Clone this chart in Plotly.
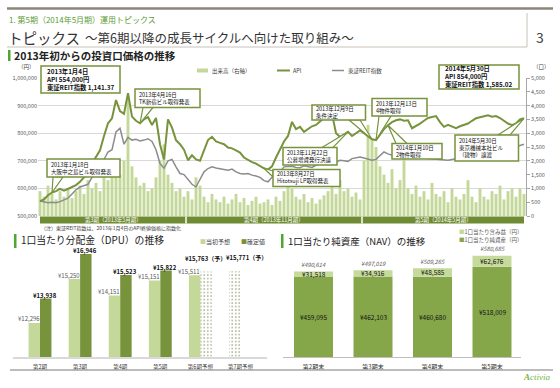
import plotly.graph_objects as go

W, H = 560, 388
JP = "Noto Sans CJK JP"

# ---------------- data ----------------
# Investment unit price (API, thousand yen), sampled ~every 3 trading days, 2013-01-04 .. 2014-05-30
api_k = [554, 560, 575, 585, 590, 598, 592, 600, 605, 612, 624, 640, 655, 690, 714, 738, 790, 836, 854, 920,
         880, 870, 945, 860, 845, 836, 850, 858, 830, 855, 760, 705, 850, 820, 775, 760, 740, 702, 720, 705,
         700, 740, 775, 787, 770, 765, 760, 748, 745, 738, 730, 712, 702, 695, 690, 680, 673, 668, 680, 712,
         740, 770, 790, 841, 815, 823, 805, 815, 825, 830, 841, 855, 883, 870, 800, 787, 795, 805, 790, 800,
         810, 800, 790, 778, 775, 795, 815, 829, 840, 847, 850, 845, 847, 818, 825, 835, 845, 855, 859, 862,
         840, 823, 830, 825, 818, 825, 830, 835, 845, 854, 858, 862, 865, 860, 862, 855, 845, 835, 829, 835,
         850, 854]
# TSE REIT index rebased to the API price on 2013-01-04 (thousand yen)
reit_k = [554, 550, 548, 550, 548, 552, 560, 565, 580, 595, 605, 610, 615, 640, 650, 660, 705, 732, 740, 805,
          818, 760, 785, 775, 778, 772, 775, 780, 770, 740, 690, 673, 700, 705, 678, 654, 650, 632, 615, 605,
          630, 660, 672, 678, 674, 672, 668, 666, 670, 660, 654, 652, 654, 648, 645, 640, 628, 624, 640, 650,
          660, 678, 680, 680, 676, 675, 682, 680, 676, 684, 690, 694, 692, 690, 695, 702, 700, 698, 708, 710,
          714, 710, 706, 702, 705, 720, 732, 725, 720, 716, 718, 720, 715, 712, 708, 710, 712, 708, 707, 707,
          705, 704, 702, 705, 708, 712, 715, 716, 714, 716, 720, 722, 725, 728, 730, 735, 738, 742, 746, 750,
          754, 760]
# Trading volume (units, right axis)
volume = [900, 700, 1100, 800, 600, 900, 700, 1000, 650, 900, 1100, 800, 1300, 1000, 1200, 900, 1500, 1300,
          1700, 1900, 1500, 2000, 4300, 1800, 1400, 1100, 1200, 900, 1000, 1400, 2000, 2600, 1500, 1200, 900,
          1000, 700,
          900, 600, 1400, 1100, 700, 500, 800, 600, 500, 700, 450, 600, 800, 500, 650, 400, 550, 700, 450, 500,
          600, 400, 700, 550, 900, 1200, 1000, 700, 600, 800, 500, 650, 450, 600, 750, 900, 1100, 800, 1300,
          900, 1000, 700, 850, 600,
          2000, 3300, 2800, 2500, 1800, 1500, 1200, 1700, 1000, 1300, 2400, 1000, 800, 1100, 700, 900, 600,
          1200, 800, 700, 900, 500, 1000, 700, 600, 800, 1300, 700, 500, 1000, 700, 600, 900, 800, 1100, 600,
          900, 1000, 700, 1000, 800]
period_labels = ["第3期（2013年5月期）", "第4期（2013年11月期）", "第5期（2014年5月期）"]

dpu_cats = ["第2期", "第3期", "第4期", "第5期", "第6期予想", "第7期予想"]
dpu_initial = [12296, 15250, 14151, 15151, 15511, 15771]
dpu_actual = [13938, 16946, 15523, 15822, 15763, None]
dpu_initial_text = ["¥12,296", "¥15,250", "¥14,151", "¥15,151", "¥15,511", None]
dpu_actual_text = ["¥13,938", "¥16,946", "¥15,523", "¥15,822", "¥15,763（予）", None]
dpu_forecast7_text = "¥15,771（予）"

nav_cats = ["第2期末", "第3期末", "第4期末", "第5期末"]
nav_values = [459095, 462103, 460680, 518009]
nav_gain = [31518, 34916, 48585, 62676]
nav_total = [490614, 497019, 509265, 580685]

api = [v * 1000 for v in api_k]
reit = [v * 1000 for v in reit_k]
N = len(api)
idx = list(range(N))

# ---------------- colours ----------------
OLIVE = "#77933c"
LIGHT = "#c4d89a"
GRAYBAR = "#a8b08e"
NAVDARK = "#86a64a"
HEAD_GREEN = "#4ea72e"

# ---------------- geometry helpers ----------------
def PX(x):
    return x / W

def PY(y):
    return 1 - y / H

MAIN_L, MAIN_R, MAIN_T, MAIN_B = 38, 526, 78, 216

def mx(i):
    return MAIN_L + (i + 0.5) * (MAIN_R - MAIN_L) / N

def my(v):
    return MAIN_B - (v - 5e5) / 5e5 * (MAIN_B - MAIN_T)

shapes = []
anns = []

def line(x0, y0, x1, y1, color, width):
    shapes.append(dict(type="line", xref="paper", yref="paper", x0=PX(x0), y0=PY(y0), x1=PX(x1), y1=PY(y1),
                       line=dict(color=color, width=width)))

def rect(x0, y0, x1, y1, fill, lc=None, lw=0):
    shapes.append(dict(type="rect", xref="paper", yref="paper", x0=PX(x0), y0=PY(y0), x1=PX(x1), y1=PY(y1),
                       fillcolor=fill, line=dict(color=lc or fill, width=lw)))

def text(x, y, s, size, color="#222222", xanchor="left", yanchor="middle", align="left", family=JP):
    anns.append(dict(x=PX(x), y=PY(y), xref="paper", yref="paper", text=s, showarrow=False,
                     xanchor=xanchor, yanchor=yanchor, align=align, borderpad=0,
                     font=dict(size=size, color=color, family=family)))

def dlabel(x, y, s, xref, yref, size, color, xshift=0, yshift=0, yanchor="middle"):
    anns.append(dict(x=x, y=y, xref=xref, yref=yref, text=s, showarrow=False, xshift=xshift, yshift=yshift,
                     yanchor=yanchor, borderpad=0, font=dict(size=size, color=color, family=JP)))

# ---------------- header ----------------
line(7, 8.5, 553, 8.5, "#8c857b", 2.5)
text(8, 19, "1. 第5期（2014年5月期）運用トピックス", 8, "#5d9b35")
text(7, 37, "トピックス", 14.5, "#333333")
text(84, 37.5, "～第6期以降の成長サイクルへ向けた取り組み～", 12.5, "#333333")
text(540, 37, "3", 14, "#404040", xanchor="center")
line(527, 13, 527, 47, "#c9c3b9", 1)
line(7, 47, 527, 47, "#c9c3b9", 1)

rect(8, 50, 10.5, 61, HEAD_GREEN)
text(13, 55.5, "<b>2013年初からの投資口価格の推移</b>", 10.5, "#222222")

# ---------------- main chart decorations ----------------
text(26, 67, "（円）", 5.5, "#404040", xanchor="center")
text(541, 67, "（口）", 5.5, "#404040", xanchor="center")

# legend
rect(197, 68.5, 208, 72.5, LIGHT)
text(211, 70.5, "出来高（右軸）", 5.5, "#404040")
line(277, 70.5, 290, 70.5, OLIVE, 2)
text(292, 70.5, "API", 5.5, "#404040")
line(332, 70.5, 344, 70.5, "#8c8c8c", 1.5)
text(347, 70.5, "東証REIT指数", 5.5, "#404040")

# period band
rect(40, 216.5, 524, 223.5, "#6f8c34")
for xs in (186, 362):
    line(xs, 216.5, xs, 223.5, "white", 1.5)
for (x0, x1), lab in zip([(40, 186), (186, 362), (362, 524)], period_labels):
    text((x0 + x1) / 2, 220, lab, 5.5, "white", xanchor="center")
text(40, 228, "（注）東証REIT指数は、2013年1月4日のAPI終値価格に指数化", 5, "#404040")

# info boxes (no tail)
def infobox(x0, y0, x1, y1, s, size):
    rect(x0, y0, x1, y1, "white", OLIVE, 1.5)
    text(x0 + 3.5, (y0 + y1) / 2, s, size, "#111111")

infobox(41, 66, 120, 93, "<b>2013年1月4日<br>API 554,000円<br>東証REIT指数 1,141.37</b>", 6.3)
infobox(439, 65, 519, 89, "<b>2014年5月30日<br>API 854,000円<br>東証REIT指数 1,585.02</b>", 6.3)

# callouts pointing at API data points
callouts = [
    # (text, data index, box(x0,y0,x1,y1), tail base points)
    ("2013年1月18日<br>大阪中之島ビル取得発表", 3, (47, 159, 120, 177), ((53, 177), (63, 177))),
    ("2013年4月16日<br>TK新宿ビル取得発表", 25, (135, 89, 200, 107.5), ((143, 107.5), (153, 107.5))),
    ("2013年8月27日<br>Hitotsuji LP取得発表", 56, (273, 169.5, 340, 186.5), ((273, 171), (273, 177))),
    ("2013年11月22日<br>公募増資発行決議", 77, (283, 147.5, 337, 165), ((322, 147.5), (333, 147.5))),
    ("2013年12月9日<br>条件決定", 83, (312, 105, 365.5, 120), ((349, 120), (360, 120))),
    ("2013年12月13日<br>4物件取得", 84, (372, 98.5, 427, 116), ((379, 116), (391, 116))),
    ("2014年1月10日<br>2物件取得", 87, (392, 143.5, 442, 159), ((396, 143.5), (407, 143.5))),
    ("2014年5月30日<br>東京機械本社ビル<br>（建物）譲渡", 121, (455, 135, 518.5, 161), ((498, 135), (510, 135))),
]
for s, i, (x0, y0, x1, y1), (b1, b2) in callouts:
    tx, ty = mx(i), my(api[i])
    path = "M {},{} L {},{} L {},{} Z".format(PX(b1[0]), PY(b1[1]), PX(tx), PY(ty), PX(b2[0]), PY(b2[1]))
    shapes.append(dict(type="path", xref="paper", yref="paper", path=path, fillcolor="white",
                       line=dict(color=OLIVE, width=1.2)))
for s, i, (x0, y0, x1, y1), _ in callouts:
    rect(x0, y0, x1, y1, "white", OLIVE, 1.5)
    text(x0 + 3, (y0 + y1) / 2, s, 5.5, "#111111")

# ---------------- DPU section ----------------
rect(14, 234, 16.5, 248, HEAD_GREEN)
text(20, 239.5, "1口当たり分配金（DPU）の推移", 9.8, "#222222")
text(199, 241, '<span style="color:%s">■</span>当初予想' % LIGHT, 6, "#404040")
text(240, 241, '<span style="color:%s">■</span>確定値' % OLIVE, 6, "#404040")
line(13, 358, 267, 358, "#d9d9d9", 2)

init_colors = [LIGHT] * 5 + [GRAYBAR]
act_colors = [OLIVE] * 4 + [GRAYBAR, GRAYBAR]
init_pat = ["", "", "", "", "", "."]
act_pat = ["", "", "", "", ".", ""]

for c, v, t in zip(dpu_cats, dpu_initial, dpu_initial_text):
    if t:
        dlabel(c, v, t, "x2", "y3", 6, "#595959", xshift=-11, yshift=4)
for c, v, t in zip(dpu_cats, dpu_actual, dpu_actual_text):
    if t:
        dlabel(c, v, "<b>%s</b>" % t, "x2", "y3", 6, "#111111", xshift=5, yshift=(13 if "予" in t else 3.5))
dlabel(dpu_cats[5], dpu_initial[5], "<b>%s</b>" % dpu_forecast7_text, "x2", "y3", 6, "#111111", xshift=6, yshift=14)

# ---------------- NAV section ----------------
rect(281, 234, 283.5, 248, HEAD_GREEN)
text(287, 240.5, "1口当たり純資産（NAV）の推移", 9.5, "#222222")
text(458, 231.5, '<span style="color:%s">■</span>1口当たり含み益（円）' % LIGHT, 5.5, "#595959")
text(458, 239.5, '<span style="color:%s">■</span>1口当たり純資産（円）' % NAVDARK, 5.5, "#595959")
line(283, 357.5, 521, 357.5, "#bfbfbf", 1)

for c, nv, g, tot in zip(nav_cats, nav_values, nav_gain, nav_total):
    dlabel(c, nv / 2, "¥{:,}".format(nv), "x3", "y4", 6.5, "#111111")
    dlabel(c, nv + g / 2, "¥{:,}".format(g), "x3", "y4", 6.5, "#111111")
    dlabel(c, tot, "<i>¥{:,}</i>".format(tot), "x3", "y4", 5.8, "#595959", yshift=1.5, yanchor="bottom")

# ---------------- footer ----------------
line(10, 370, 553, 370, "#a6a6a6", 1.5)
text(537, 377, "<b><i>A</i></b><i>ctivia</i>", 9, "#7cb342", xanchor="center", family="Liberation Serif")

# ---------------- traces ----------------
fig = go.Figure()
fig.add_trace(go.Bar(x=idx, y=volume, xaxis="x", yaxis="y", width=0.72, marker=dict(color=LIGHT, line=dict(width=0)),
                     name="出来高（右軸）"))
fig.add_trace(go.Scatter(x=idx, y=reit, xaxis="x", yaxis="y2", mode="lines", line=dict(color="#8c8c8c", width=1.5),
                         name="東証REIT指数"))
fig.add_trace(go.Scatter(x=idx, y=api, xaxis="x", yaxis="y2", mode="lines", line=dict(color=OLIVE, width=2),
                         name="API"))

pat = dict(fgcolor="#c9cfb6", size=3.5, solidity=0.2)
fig.add_trace(go.Bar(x=dpu_cats, y=dpu_initial, xaxis="x2", yaxis="y3", width=0.285, offset=-0.285,
                     marker=dict(color=init_colors, line=dict(width=0), pattern=dict(shape=init_pat, **pat)),
                     name="当初予想"))
fig.add_trace(go.Bar(x=dpu_cats, y=dpu_actual, xaxis="x2", yaxis="y3", width=0.285, offset=0,
                     marker=dict(color=act_colors, line=dict(width=0), pattern=dict(shape=act_pat, **pat)),
                     name="確定値"))

fig.add_trace(go.Bar(x=nav_cats, y=nav_values, xaxis="x3", yaxis="y4", width=0.655, offset=-0.3275,
                     marker=dict(color=NAVDARK, line=dict(width=0)), name="1口当たり純資産（円）"))
fig.add_trace(go.Bar(x=nav_cats, y=nav_gain, base=nav_values, xaxis="x3", yaxis="y4", width=0.655, offset=-0.3275,
                     marker=dict(color="#c6da9c", line=dict(width=0)), name="1口当たり含み益（円）"))

tickfont = dict(size=5.5, color="#595959", family=JP)
fig.update_layout(
    template="none",
    width=W, height=H, margin=dict(l=0, r=0, t=0, b=0, pad=0, autoexpand=False), autosize=False,
    paper_bgcolor="white", plot_bgcolor="white", showlegend=False,
    xaxis=dict(domain=[PX(MAIN_L), PX(MAIN_R)], range=[-0.5, N - 0.5], visible=False, anchor="y",
               automargin=False),
    yaxis=dict(domain=[PY(MAIN_B), PY(MAIN_T)], range=[0, 5000], dtick=500, side="right", anchor="x",
               tickformat=",d", showgrid=False, zeroline=False, showline=True, linecolor="#a6a6a6",
               ticks="outside", ticklen=3, tickcolor="#a6a6a6", tickfont=tickfont, automargin=False),
    yaxis2=dict(overlaying="y", side="left", anchor="x", range=[500000, 1000000], dtick=100000,
                tickformat=",d", showgrid=True, gridcolor="#d9d9d9", gridwidth=1.2, zeroline=False,
                showline=False, ticks="", tickfont=tickfont, automargin=False),
    xaxis2=dict(domain=[PX(17), PX(268)], anchor="y3", type="category", showgrid=False, showline=False,
                zeroline=False, ticks="outside", ticklen=4, tickcolor="rgba(0,0,0,0)",
                tickfont=dict(size=5.5, color="#333333", family=JP), automargin=False),
    yaxis3=dict(domain=[PY(357), PY(238.3)], range=[10000, 18000], visible=False, anchor="x2", automargin=False),
    xaxis3=dict(domain=[PX(283.75), PX(521.75)], anchor="y4", type="category", showgrid=False, showline=False,
                zeroline=False, ticks="outside", ticklen=3, tickcolor="rgba(0,0,0,0)",
                tickfont=dict(size=6, color="#333333", family=JP), automargin=False),
    yaxis4=dict(domain=[PY(357.3), PY(252.3)], range=[0, 600000], visible=False, anchor="x3", automargin=False),
    shapes=shapes, annotations=anns,
    font=dict(family=JP),
)

fig.write_html("out.html", include_plotlyjs=True, config={"displayModeBar": False},
               post_script="document.body.style.margin='0px';")
